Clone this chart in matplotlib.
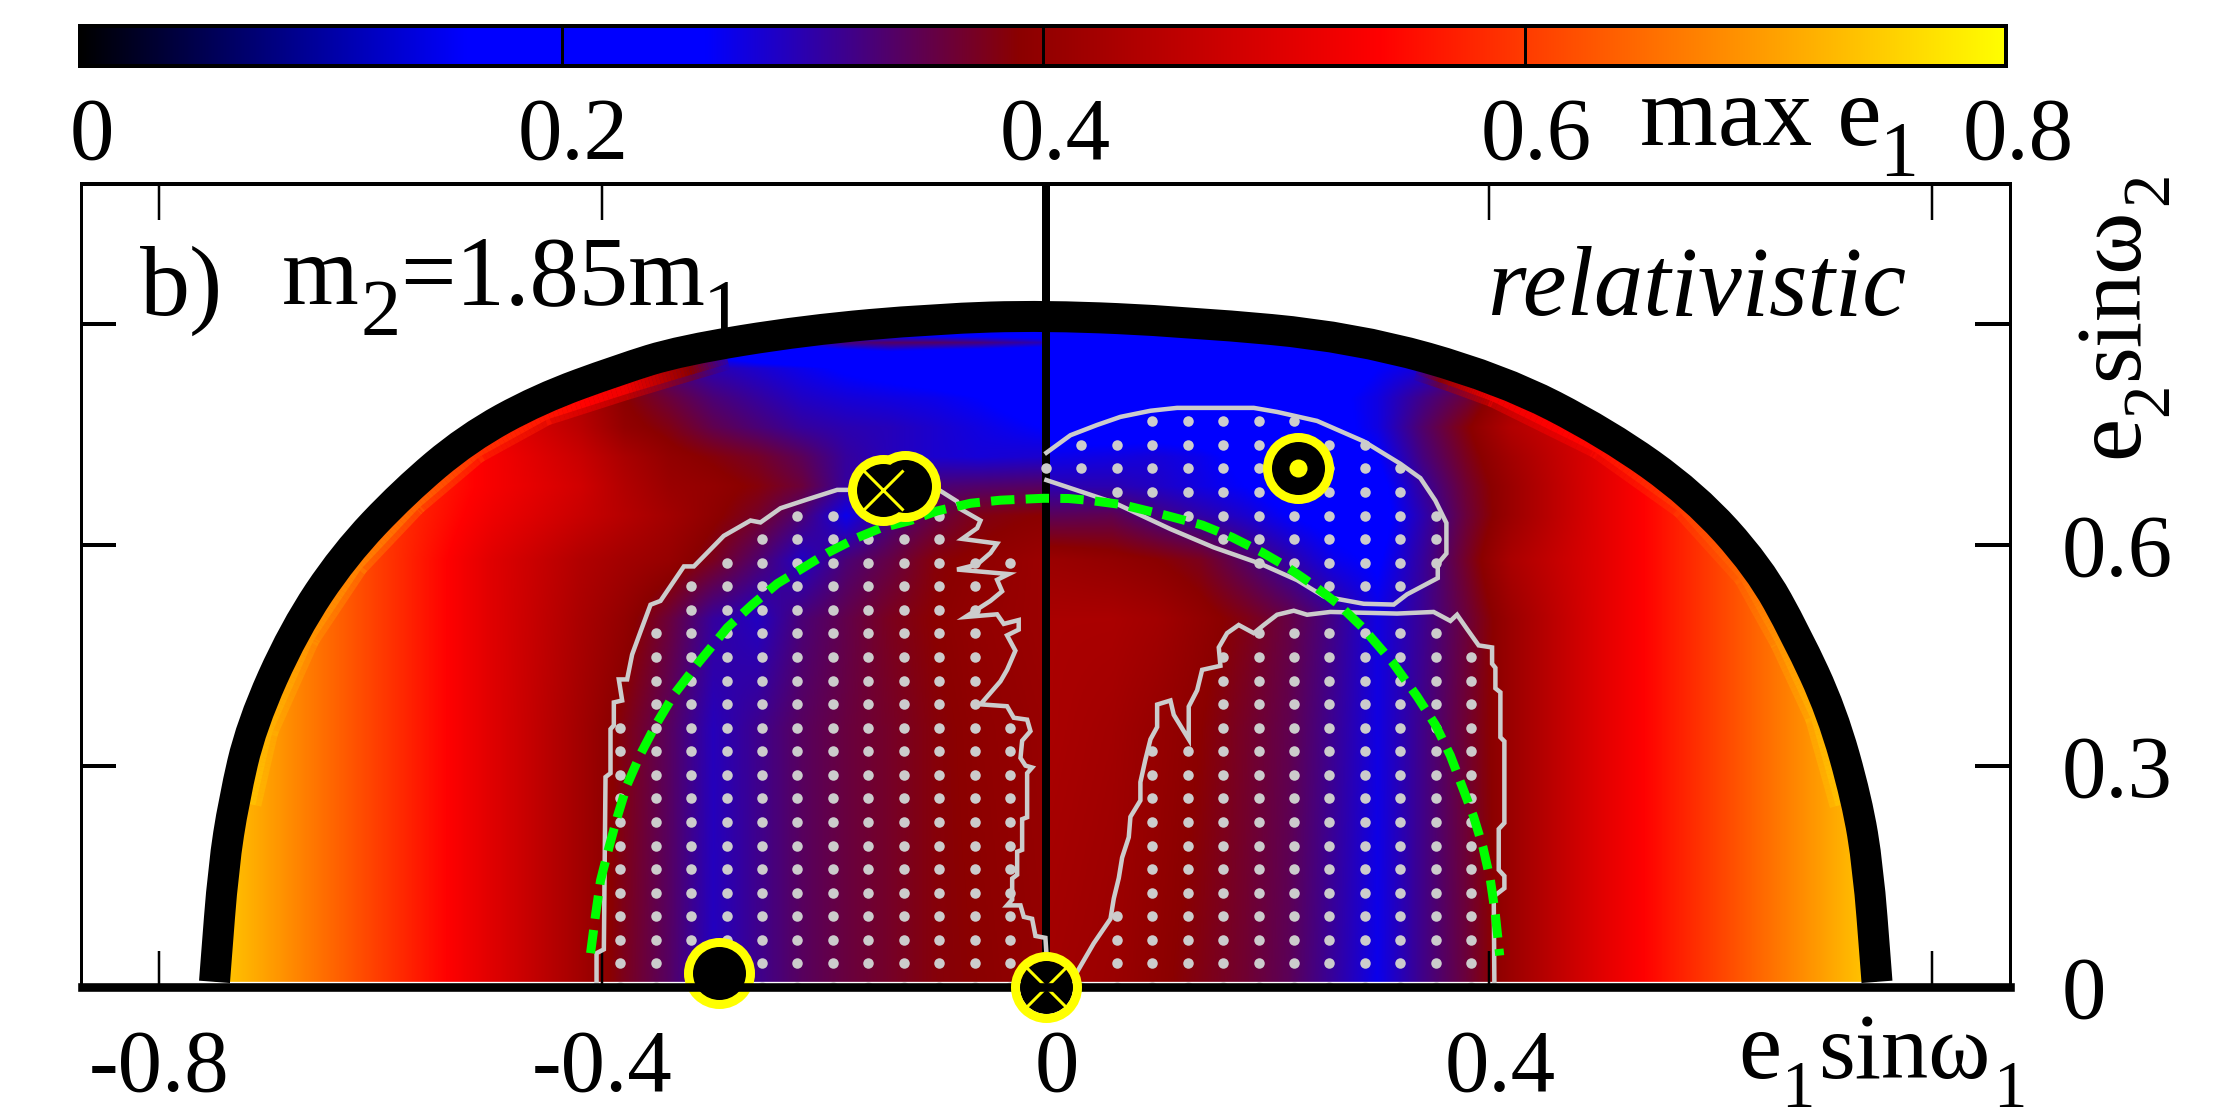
import numpy as np
import matplotlib
matplotlib.use("Agg")
import matplotlib.pyplot as plt
from matplotlib.colors import LinearSegmentedColormap
from matplotlib.collections import LineCollection
from matplotlib.patches import PathPatch
from matplotlib.path import Path
from matplotlib.transforms import ScaledTranslation

plt.rcParams['font.family'] = ['Liberation Serif', 'DejaVu Serif']
W, H = 2222, 1111

# ---- colour scale
cb_ticks = [0, 0.2, 0.4, 0.6, 0.8]
cb_labels = ['0', '0.2', '0.4', '0.6', '0.8']
cmap_stops = [0.0, 0.16, 0.26, 0.39, 0.54, 0.8]
cmap_colors = ['#000000', '#0000ff', '#0000ff', '#8b0000', '#ff0000', '#ffff00']

# ---- field max e1 (rows: y_knots, columns: x_knots)
x_knots = [-.78, -.6, -.5, -.42, -.38, -.34, -.3, -.26, -.22, -.18, -.14, -.1, -.06, -.004,
           .004, .06, .1, .14, .18, .22, .26, .3, .34, .38, .42, .5, .6, .78]
y_knots = [0, .35, .5, .58, .64, .68, .72, .76, .8, .84, .86, .875, .89, .92]
field = [
 [.78,.6,.5,.42,.375,.34,.292,.318,.342,.358,.37,.385,.39,.40, .42,.41,.395,.38,.365,.345,.31,.27,.32,.36,.41,.5,.6,.78],
 [.78,.6,.5,.42,.38,.342,.295,.318,.342,.358,.37,.385,.395,.405, .43,.42,.405,.39,.37,.35,.315,.275,.32,.365,.41,.5,.6,.78],
 [.78,.6,.5,.43,.40,.36,.31,.292,.33,.352,.375,.39,.40,.41, .43,.43,.42,.40,.38,.355,.32,.275,.315,.36,.41,.5,.6,.78],
 [.78,.6,.5,.44,.42,.405,.375,.335,.29,.33,.355,.385,.395,.41, .41,.40,.39,.375,.34,.305,.27,.255,.31,.37,.43,.5,.6,.78],
 [.78,.6,.52,.47,.445,.42,.395,.37,.33,.27,.325,.355,.38,.39, .345,.35,.325,.305,.285,.26,.245,.24,.30,.36,.41,.5,.6,.78],
 [.78,.6,.53,.48,.44,.41,.40,.385,.36,.31,.31,.33,.335,.34, .30,.30,.29,.275,.26,.24,.24,.245,.31,.365,.41,.5,.6,.78],
 [.78,.6,.53,.47,.43,.40,.385,.37,.345,.31,.295,.285,.28,.285, .27,.275,.28,.27,.25,.225,.235,.26,.325,.375,.42,.5,.6,.78],
 [.78,.6,.52,.45,.40,.38,.35,.33,.31,.30,.295,.285,.275,.26, .24,.24,.24,.235,.225,.22,.245,.275,.335,.385,.44,.5,.6,.78],
 [.78,.6,.5,.44,.39,.36,.33,.31,.29,.28,.275,.27,.26,.24, .21,.2,.2,.2,.2,.2,.25,.275,.32,.36,.42,.5,.6,.78],
 [.78,.6,.5,.44,.38,.33,.30,.285,.27,.255,.245,.235,.225,.21, .2,.2,.2,.2,.2,.2,.23,.26,.28,.33,.4,.5,.6,.78],
 [.78,.6,.5,.44,.38,.30,.25,.22,.21,.22,.24,.22,.21,.20, .2,.2,.2,.2,.2,.2,.2,.22,.25,.3,.4,.5,.6,.78],
 [.78,.6,.5,.44,.38,.30,.2,.2,.28,.33,.34,.34,.33,.30, .2,.2,.2,.2,.2,.2,.2,.2,.25,.3,.4,.5,.6,.78],
 [.78,.6,.5,.44,.38,.30,.2,.2,.2,.2,.2,.2,.2,.2, .2,.2,.2,.2,.2,.2,.2,.2,.2,.3,.4,.5,.6,.78],
 [.78,.6,.5,.44,.38,.30,.2,.2,.2,.2,.2,.2,.2,.2, .2,.2,.2,.2,.2,.2,.2,.2,.2,.3,.4,.5,.6,.78],
]

# ---- thick black outer limit (control points of a smooth curve)
band_x = [-.750,-.749,-.742,-.7325,-.7168,-.6784,-.6333,-.5791,-.522,-.4574,-.3852,-.3296,-.2172,-.1,0,
          .129,.2777,.4102,.5064,.5846,.6431,.6773,.7094,.7319,.742,.749,.750]
band_y = [.007,.027,.162,.2534,.3553,.4843,.5861,.6722,.7447,.7981,.8379,.8639,.8915,.907,.9118,
          .9028,.8822,.8259,.7514,.6677,.5703,.4775,.3734,.2534,.162,.027,.007]

# ---- bright rim just inside the limit
rim_left_x = [-.7325,-.7168,-.6784,-.6333,-.5791,-.522,-.4574,-.3852,-.3296,-.2918]
rim_left_y = [.2534,.3553,.4843,.5861,.6722,.7447,.7981,.8329,.8579,.8746]
rim_left_v = [.735,.72,.69,.67,.64,.59,.56,.52,.40,.30]
rim_right_x = [.7319,.7094,.6773,.6431,.5846,.5064,.4102,.37,.34]
rim_right_y = [.2534,.3734,.4775,.5703,.6677,.7514,.8229,.845,.86]
rim_right_v = [.735,.72,.69,.645,.60,.55,.52,.42,.30]

# ---- grey stability contours
left_x = [-.4053,-.4053,-.3987,-.3972,-.3927,-.3927,-.3897,-.3897,-.3822,-.3852,-.3777,-.3732,-.3656,-.3566,-.3476,-.3265,-.3175,-.2905,-.2664,-.2574,-.2393,-.2153,-.1882,-.1762,
          -.0965,-.0800,-.0770,-.0589,-.0619,-.0755,-.0439,-.0499,-.0619,-.0800,-.0334,-.0439,-.0394,-.0499,-.0725,-.0439,-.0379,-.0244,-.0244,-.0349,-.0274,-.0349,-.0409,-.0589,-.0349,-.0289,-.0168,-.0138,-.0213,-.0228,-.0183,-.0123,-.0168,-.0168,-.0213,-.0213,-.0258,-.0258,-.0303,-.0303,-.0349,-.0228,-.0198,-.0123,-.0093,-.0003,.0006]
left_y = [0,.0459,.0511,.2850,.2902,.3500,.3552,.3863,.3889,.4175,.4175,.4513,.4825,.5189,.5241,.5709,.5709,.6124,.6332,.6306,.6499,.6618,.6748,.6748,
          .6748,.6592,.6488,.6332,.6228,.6083,.6020,.5891,.5735,.5667,.5605,.5527,.5371,.5241,.5023,.5059,.4929,.4981,.4851,.4773,.4565,.4305,.4149,.3837,.3811,.3655,.3629,.3473,.3343,.3109,.3005,.2979,.2902,.2304,.2278,.1862,.1836,.1524,.1472,.1186,.1108,.1108,.0952,.0926,.0693,.0667,.0459]
right_x = [.0283,.0433,.0584,.0614,.0659,.0689,.0749,.0764,.0854,.0854,.0899,.0945,.1005,.1005,.1125,.1155,.1290,.1290,.1366,.1411,.1576,.1561,.1636,.1741,.1877,.1967,.2087,.2238,.2358,.2568,.3170,.3500,.3651,.3711,.3801,.3906,.4027,.4027,.4057,.4057,.4102,.4102,.4138,.4138,.4087,.4087,.4138,.4138,.4042,.4048]
right_y = [.0205,.0593,.0925,.1202,.1479,.1756,.2033,.2310,.2532,.2781,.3086,.3363,.3529,.3834,.3889,.3695,.3363,.3806,.4028,.4305,.4360,.4609,.4803,.4914,.4803,.4914,.5053,.5108,.5053,.5091,.5069,.5091,.4969,.5053,.4859,.4637,.4609,.4388,.4332,.4055,.4000,.3390,.3335,.2227,.2144,.1590,.1507,.1341,.1230,0]
lobe_x = [.0006,.0223,.0463,.0674,.0945,.1185,.1877,.2087,.2448,.2869,.3200,.3380,.3515,.3615,.3615,.3537,.3537,.3260,.3140,.2869,.2508,.2268,.1937,.1516,.1125,.0614,.0006]
lobe_y = [.7252,.7490,.7629,.7739,.7822,.7861,.7861,.7806,.7684,.7407,.7102,.6908,.6604,.6299,.5884,.5745,.5551,.5330,.5191,.5202,.5302,.5523,.5745,.5967,.6216,.6576,.6881]

# ---- green dashed curve
green_x = [-.4107,-.4062,-.4017,-.3942,-.3867,-.3777,-.3656,-.3521,-.3356,-.3130,-.2874,-.2649,-.2423,-.2168,-.1972,-.1702,-.1491,-.1221,-.0980,-.0679,-.0409,-.0018,
           .0205,.0403,.0689,.1065,.1411,.1681,.1952,.2162,.2403,.2644,.2854,.3125,.3350,.3516,.3651,.3756,.3861,.3945,.4012,.4057,.4096]
green_y = [.0459,.0978,.1446,.1888,.2304,.2746,.3162,.3552,.3967,.4409,.4877,.5189,.5475,.5709,.5891,.6098,.6228,.6332,.6462,.6566,.6608,.6634,
           .6631,.6604,.6548,.6410,.6271,.6105,.5900,.5717,.5468,.5191,.4886,.4415,.3945,.3557,.3141,.2726,.2310,.1895,.1451,.0981,.0427]

# ---- grey lattice dots: lattice step, then per row index the column index ranges
dot_step = 0.032
left_dots = {0:(-12,-1),1:(-12,-1),2:(-12,-1),3:(-12,-1),4:(-12,-1),5:(-12,-1),6:(-12,-1),7:(-12,-1),8:(-12,-1),9:(-12,-1),10:(-12,-1),11:(-12,-1),
             12:(-11,-2),13:(-11,-2),14:(-11,-2),15:(-11,-2),16:(-10,-2),17:(-10,-2),18:(-9,-1),19:(-8,-3),20:(-7,-3)}
right_dots = {0:(1,12),1:(2,12),2:(2,12),3:(2,12),4:(3,12),5:(3,12),6:(3,12),7:(3,12),8:(3,12),9:(3,12),10:(3,12),
              11:(5,12),12:(5,12),13:(5,12),14:(5,12),15:(6,11)}
lobe_dots = {24:(3,7),23:(1,9),22:(0,10),21:(2,10),20:(4,11),19:(5,11),18:(6,11),17:(8,10)}

# ---- marked points
plain_pt = (-.2947, .0187)
cross_pts_x = [-.1467, 0.0]
cross_pts_y = [.6748, 0.0]
twin_pt = (-.1272, .6805)
dot_pt = (.2277, .7047)

x_ticks = [-.8, -.4, 0, .4, .8]
x_tick_labels = ['-0.8', '-0.4', '0', '0.4', '']
y_ticks = [0, .3, .6, .9]
y_tick_labels = ['0', '0.3', '0.6', '']

px = 0.72  # points per pixel at dpi 100
fig = plt.figure(figsize=(W/100, H/100), dpi=100, facecolor='white')

def rect(l, t, r, b):
    return [l/W, 1-b/H, (r-l)/W, (b-t)/H]

cmap = LinearSegmentedColormap.from_list('maxe', [(s/0.8, c) for s, c in zip(cmap_stops, cmap_colors)], N=1024)

# colour bar
cax = fig.add_axes(rect(80, 26, 2006, 66))
cax.imshow(np.linspace(0, .8, 1024)[None, :], cmap=cmap, vmin=0, vmax=.8, aspect='auto', extent=[0, .8, 0, 1])
cax.set_yticks([])
cax.set_xticks(cb_ticks, cb_labels, fontsize=64)
cax.tick_params(axis='x', direction='in', length=40*px, width=3*px, pad=22, color='black')
for s in cax.spines.values():
    s.set_linewidth(4*px)
for lab in cax.get_xticklabels():
    lab.set_transform(lab.get_transform()+ScaledTranslation(12/100, 0, fig.dpi_scale_trans))

# main axes
ax = fig.add_axes(rect(81.5, 184, 2010, 987))
ax.set_xlim(-.87, .87)
ax.set_ylim(0, 1.09)
ax.set_xticks(x_ticks, x_tick_labels, fontsize=64)
ax.set_yticks(y_ticks, y_tick_labels, fontsize=64)
ax.tick_params(axis='x', direction='in', length=36*px, width=2.5*px, top=True, bottom=True, pad=30)
ax.tick_params(axis='y', direction='in', length=35*px, width=4*px, left=True, right=True,
               labelleft=False, labelright=True, pad=37)
for lab, v in zip(ax.get_xticklabels(), x_ticks):
    dx = 11 if v >= 0 else 0
    lab.set_transform(lab.get_transform()+ScaledTranslation(dx/100, 0, fig.dpi_scale_trans))
ax.spines['left'].set_linewidth(3*px)
ax.spines['right'].set_linewidth(3*px)
ax.spines['top'].set_linewidth(4*px)
ax.spines['bottom'].set_linewidth(8.6*px)
ax.spines['bottom'].set_zorder(6)

# smooth path with the read points as quadratic control points
pts = np.column_stack([band_x, band_y])
verts = [pts[0]]
codes = [Path.MOVETO]
for a, b in zip(pts[1:-2], pts[2:-1]):
    verts += [a, (a+b)/2]
    codes += [Path.CURVE3, Path.CURVE3]
verts += [pts[-2], pts[-1]]
codes += [Path.CURVE3, Path.CURVE3]
band_path = Path(verts, codes)
clip_path = Path(verts+[pts[0]], codes+[Path.LINETO])

# field
xf = np.linspace(x_knots[0], x_knots[-1], 1300)
yf = np.linspace(y_knots[0], y_knots[-1], 700)
tab = np.array(field)
by_x = np.array([np.interp(xf, x_knots, row) for row in tab])
img = np.array([np.interp(yf, y_knots, by_x[:, j]) for j in range(len(xf))]).T
im = ax.imshow(img, origin='lower', extent=[xf[0], xf[-1], yf[0], yf[-1]], cmap=cmap, vmin=0, vmax=.8,
               aspect='auto', zorder=1, interpolation='bilinear')
im.set_clip_path(clip_path, ax.transData)

# rim
for rx, ry, rv in ((rim_left_x, rim_left_y, rim_left_v), (rim_right_x, rim_right_y, rim_right_v)):
    t_ = np.arange(len(rx))
    tt = np.linspace(0, len(rx)-1, 160)
    qx, qy, qv = np.interp(tt, t_, rx), np.interp(tt, t_, ry), np.interp(tt, t_, rv)
    segs = np.stack([np.column_stack([qx[:-1], qy[:-1]]), np.column_stack([qx[1:], qy[1:]])], axis=1)
    for lw, al, zz in ((56, .5, 1.28), (44, 1, 1.3)):
        lc = LineCollection(segs, cmap=cmap, norm=plt.Normalize(0, .8), linewidths=lw*px, zorder=zz,
                            capstyle='butt', alpha=al)
        lc.set_array(qv[:-1])
        ax.add_collection(lc)
        lc.set_clip_path(clip_path, ax.transData)

# band and centre line
ax.add_patch(PathPatch(band_path, fill=False, edgecolor='black', lw=31*px, capstyle='butt', joinstyle='round', zorder=3))
ax.plot([0, 0], [0, 1.09], color='black', lw=8*px, solid_capstyle='butt', zorder=3.1)

# contours
grey = '#cccccc'
for cx, cy in ((left_x, left_y), (right_x, right_y), (lobe_x, lobe_y)):
    ax.plot(cx, cy, color=grey, lw=4.5*px, zorder=4, solid_joinstyle='miter')

# dots
dx_all, dy_all = [], []
for table in (left_dots, right_dots, lobe_dots):
    for j, (i0, i1) in table.items():
        for i in range(i0, i1+1):
            dx_all.append(i*dot_step)
            dy_all.append(j*dot_step)
ax.plot(dx_all, dy_all, ls='none', marker='o', ms=10.5*px, mfc=grey, mec='none', zorder=4.2)

# green
ax.plot(green_x, green_y, color='#00ff00', lw=9*px, dashes=(2.6, 1.25), dash_capstyle='butt', zorder=4.5)

# marked points
Y = '#ffff00'
outer, inner = 71*px, 53*px
ax.plot([plain_pt[0], cross_pts_x[0], twin_pt[0], dot_pt[0]], [plain_pt[1], cross_pts_y[0], twin_pt[1], dot_pt[1]],
        ls='none', marker='o', ms=outer, mfc=Y, mec='none', zorder=5, clip_on=False)
ax.plot([plain_pt[0], cross_pts_x[0], twin_pt[0], dot_pt[0]], [plain_pt[1], cross_pts_y[0], twin_pt[1], dot_pt[1]],
        ls='none', marker='o', ms=inner, mfc='black', mec='none', zorder=5.1, clip_on=False)
ax.plot([cross_pts_x[1]], [cross_pts_y[1]], ls='none', marker='o', ms=inner, mfc='black', mec='none', zorder=5.1, clip_on=False)
ax.plot([cross_pts_x[1]], [cross_pts_y[1]], ls='none', marker='o', ms=62*px, mfc='none', mec=Y, mew=9*px, zorder=7, clip_on=False)
ax.plot(cross_pts_x, cross_pts_y, ls='none', marker='x', ms=40*px, mec=Y, mew=3*px, zorder=5.5, clip_on=False)
ax.plot([dot_pt[0]], [dot_pt[1]], ls='none', marker='o', ms=18*px, mfc=Y, mec='none', zorder=5.5)

def t(x, y, s, size, **kw):
    return fig.text(x/W, 1-y/H, s, fontsize=size, ha='left', va='baseline', **kw)

# text pieces
t(1640, 145, 'max e', 72)
t(1879, 175, '1', 56)
t(1488, 315, 'relativistic', 71, style='italic')
t(140, 315, 'b)', 72)
t(282, 304, 'm', 71)
t(361, 335, '2', 58)
t(400, 304, '=1.85m', 71)
ax_m1 = ax.text(0, 0, '1', fontsize=58, ha='left', va='baseline', zorder=1.2, transform=fig.transFigure)
ax_m1.set_position((703/W, 1-335/H))
t(1738, 1078, 'e', 70)
t(1781, 1107, '1', 48)
t(1818, 1078, 'sin\u03c9', 68)
t(1993, 1107, '1', 48)
rk = dict(rotation=90, rotation_mode='anchor')
t(2137, 458, 'e', 70, **rk)
t(2167, 416, '2', 48, **rk)
t(2137, 380, 'sin\u03c9', 68, **rk)
t(2167, 205, '2', 48, **rk)

fig.savefig('out.png', dpi=100, facecolor='white')
